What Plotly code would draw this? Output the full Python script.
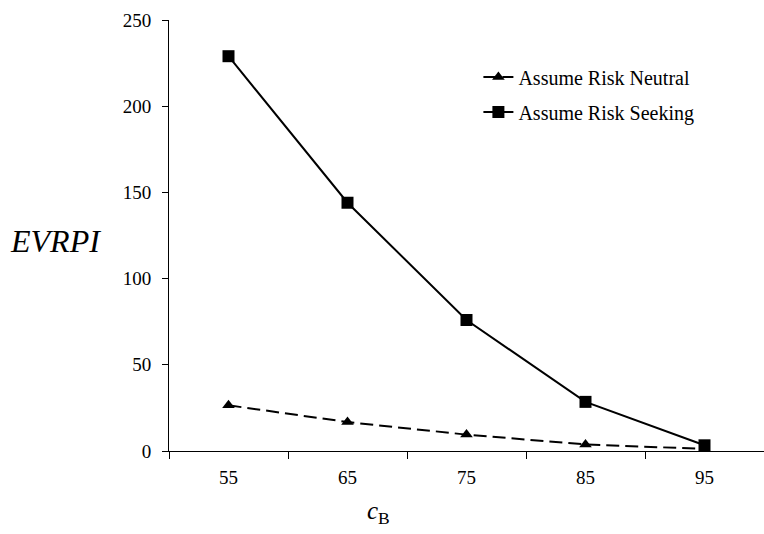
import plotly.graph_objects as go

# Cost levels for option B and expected value of perfect information
c_b = ["55", "65", "75", "85", "95"]
risk_neutral = [26.5, 16.8, 9.5, 3.8, 1.2]
risk_seeking = [229, 144, 76, 28.5, 3.3]
y_ticks = [0, 50, 100, 150, 200, 250]

SERIF = "Liberation Serif, Times New Roman, serif"

fig = go.Figure()
fig.add_trace(go.Scatter(
    x=c_b, y=risk_neutral, name="Assume Risk Neutral", mode="lines+markers",
    legendgroup="a",
    line=dict(color="black", width=2, dash="13px,6px"),
    marker=dict(symbol="triangle-up", size=11, color="black"),
))
fig.add_trace(go.Scatter(
    x=c_b, y=risk_seeking, name="Assume Risk Seeking", mode="lines+markers",
    legendgroup="b",
    line=dict(color="black", width=2),
    marker=dict(symbol="square", size=12, color="black"),
))

fig.update_layout(
    width=764, height=534,
    margin=dict(l=169, r=0, t=20, b=83),
    paper_bgcolor="white", plot_bgcolor="white",
    font=dict(family=SERIF, size=19, color="black"),
    showlegend=True,
    legend=dict(
        x=0.52, y=0.913, xanchor="left", yanchor="top",
        bgcolor="rgba(0,0,0,0)", font=dict(family=SERIF, size=20),
        tracegroupgap=6, traceorder="grouped",
    ),
    xaxis=dict(
        type="category", tickson="boundaries", ticks="outside", ticklen=7,
        tickcolor="black", showline=True, linecolor="black", linewidth=1,
        showgrid=False, zeroline=False, ticklabelstandoff=9,
        range=[-0.5, 4.5],
    ),
    yaxis=dict(
        range=[0, 250], tickvals=y_ticks, ticks="outside", ticklen=6,
        tickcolor="black", showline=True, linecolor="black", linewidth=1,
        showgrid=False, zeroline=False, ticklabelstandoff=7,
    ),
    annotations=[
        dict(text="<i>EVRPI</i>", xref="paper", yref="paper",
             x=-0.19, y=0.487, xanchor="center", yanchor="middle",
             showarrow=False, font=dict(family=SERIF, size=32)),
        dict(text="<i>c</i><sub>B</sub>", xref="paper", yref="paper",
             x=0.352, y=-0.142, xanchor="center", yanchor="middle",
             showarrow=False, font=dict(family=SERIF, size=25)),
    ],
)

fig.write_html("out.html")
